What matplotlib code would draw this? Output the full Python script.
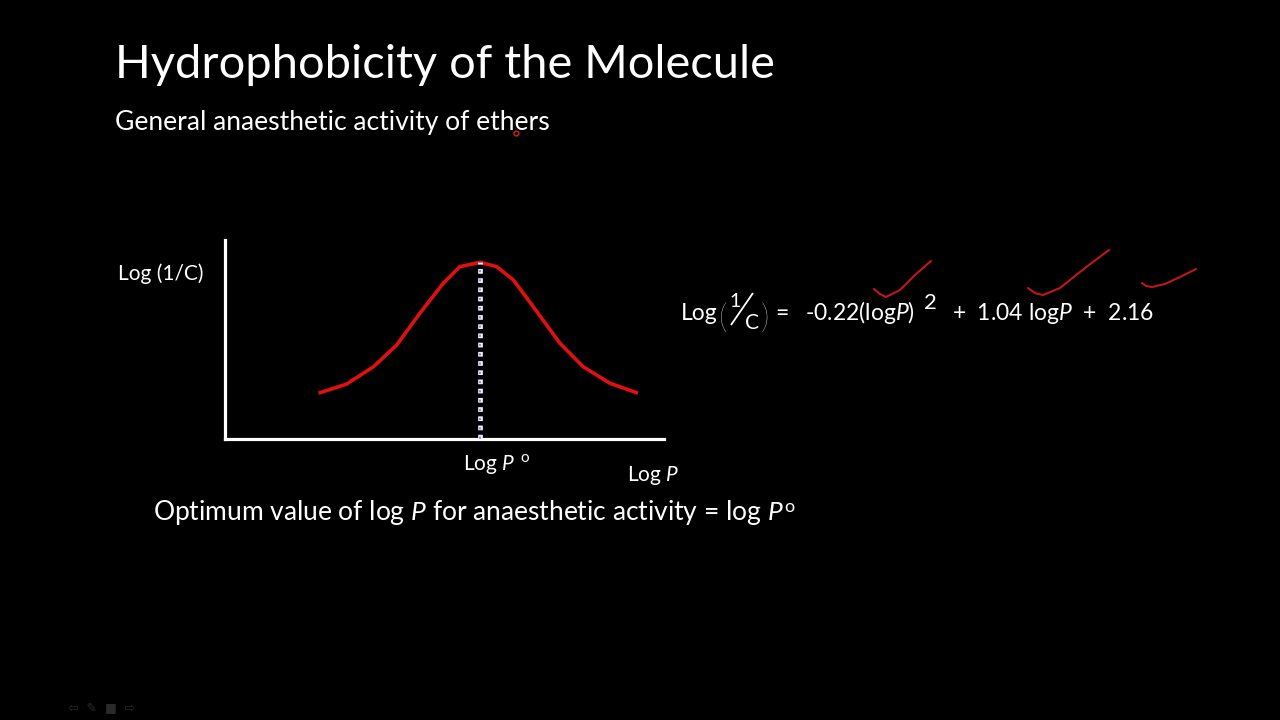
import matplotlib
matplotlib.use("Agg")
import matplotlib.pyplot as plt

plt.rcParams['font.family'] = ['Lato', 'DejaVu Sans']
plt.rcParams['mathtext.fontset'] = 'custom'
plt.rcParams['mathtext.rm'] = 'Lato'
plt.rcParams['mathtext.it'] = 'Lato:italic'
plt.rcParams['mathtext.bf'] = 'Lato:bold'

# ---- data (curve, axis units 0..10) ----
log_p = [2.13, 2.77, 3.38, 3.91, 4.44, 4.97, 5.35, 5.81, 6.19, 6.57, 7.02, 7.63, 8.16, 8.77, 9.41]
log_inv_c = [2.30, 2.76, 3.63, 4.72, 6.32, 7.82, 8.66, 8.88, 8.66, 7.99, 6.65, 4.81, 3.63, 2.80, 2.30]
log_p_opt = 5.81
peak_value = 8.88

title = "Hydrophobicity of the Molecule"
subtitle = "General anaesthetic activity of ethers"
y_label = "Log (1/C)"
x_label = "Log $P$"
opt_label = "Log $P$"
footer = "Optimum value of log $P$ for anaesthetic activity = log $P$"
eq_coefs = ["-0.22", "1.04", "2.16"]

W, H = 1280, 720
fig = plt.figure(figsize=(W / 100, H / 100), dpi=100, facecolor='black')

# overlay axes in pixel coordinates for text
ov = fig.add_axes([0, 0, 1, 1])
ov.set_xlim(0, W)
ov.set_ylim(H, 0)
ov.axis('off')
ov.set_facecolor('none')

# chart axes
L, R, T, B = 225, 664, 240, 439
ax = fig.add_axes([L / W, (H - B) / H, (R - L) / W, (B - T) / H])
ax.set_facecolor('black')
ax.set_xlim(0, 10)
ax.set_ylim(0, 10)
for s in ['top', 'right']:
    ax.spines[s].set_visible(False)
for s in ['left', 'bottom']:
    ax.spines[s].set_color('white')
    ax.spines[s].set_linewidth(2.3)
ax.set_xticks([])
ax.set_yticks([])

ax.plot(log_p, log_inv_c, color='#e01010', lw=2.6, solid_capstyle='butt', zorder=3)
# dotted optimum line: white squares with a bluish core
ax.plot([log_p_opt, log_p_opt], [0, peak_value], color='#f0f0ff', lw=3.4,
        linestyle=(0, (1.0, 0.95)), dash_capstyle='butt', zorder=4)
ax.plot([log_p_opt, log_p_opt], [0, peak_value], color='#7070c8', lw=1.2,
        linestyle=(5.3, (1.2, 4.35)), dash_capstyle='butt', zorder=5)

# texts
ov.text(115, 78, title, color='white', fontsize=33.8, va='baseline', ha='left')
ov.text(115, 130, subtitle, color='white', fontsize=19.1, va='baseline', ha='left')
ov.text(118, 280, y_label, color='white', fontsize=15, va='baseline', ha='left')
ov.text(463, 470, opt_label, color='white', fontsize=15, va='baseline', ha='left')
ov.text(520, 462, "o", color='white', fontsize=11, va='baseline', ha='left')
ov.text(627, 481, x_label, color='white', fontsize=15, va='baseline', ha='left')
ov.text(153, 520, footer, color='white', fontsize=19, va='baseline', ha='left')
ov.text(784, 512, "o", color='white', fontsize=13, va='baseline', ha='left')

# equation
eq_y = 320
ov.text(681, eq_y, "Log", color='white', fontsize=16.5, va='baseline', ha='left')
ov.text(719, eq_y + 8, "(", color='white', fontsize=24, va='baseline', ha='left',
        fontweight='light')
ov.text(729, eq_y - 13, "1", color='white', fontsize=14, va='baseline', ha='left')
ov.plot([731, 753], [eq_y + 5, eq_y - 27], color='white', lw=1.3, solid_capstyle='butt')
ov.text(745, eq_y + 9, "C", color='white', fontsize=15, va='baseline', ha='left')
ov.text(761, eq_y + 8, ")", color='white', fontsize=24, va='baseline', ha='left',
        fontweight='light')
ov.text(775, eq_y, "=", color='white', fontsize=16.5, va='baseline', ha='left')
ov.text(805, eq_y, eq_coefs[0] + "(log$P$)", color='white', fontsize=16.5, va='baseline', ha='left')
ov.text(924, eq_y - 11, "2", color='white', fontsize=16, va='baseline', ha='left')
ov.text(952, eq_y, "+  " + eq_coefs[1] + " log$P$  +  " + eq_coefs[2], color='white',
        fontsize=16.5, va='baseline', ha='left')

# hand-drawn red check marks
checks = [
    ([874, 880, 886, 900, 915, 931], [289, 294, 297, 290, 275, 261]),
    ([1028, 1035, 1043, 1060, 1085, 1109], [288, 293, 295, 288, 268, 250]),
    ([1142, 1146, 1152, 1165, 1180, 1196], [283, 286, 287, 284, 277, 269]),
]
for xs, ys in checks:
    ov.plot(xs, ys, color='#c01818', lw=1.5, solid_capstyle='round', solid_joinstyle='round')
ov.plot([516], [133], marker='o', ms=3.5, mfc='none', mec='#d02020', mew=1)

# faint slideshow controls
ov.text(68, 711, "\u21e6  \u270e  \u25a0  \u21e8", color='#2a2a2a', fontsize=9,
        family=['DejaVu Sans'], va='baseline', ha='left')

fig.savefig('out.png', dpi=100, facecolor='black')
